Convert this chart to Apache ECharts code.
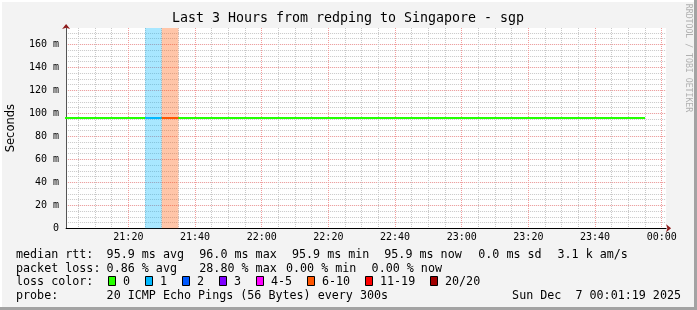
<!DOCTYPE html>
<html>
<head>
<meta charset="utf-8">
<script src="https://cdn.jsdelivr.net/npm/echarts@6/dist/echarts.min.js"></script>
<style>
html,body{margin:0;padding:0;background:#f3f3f3;}
#c{width:697px;height:310px;}
</style>
</head>
<body>
<div id="c"></div>
<script>
// ---- data ----
const stepEnd = ['21:05','21:10','21:15','21:20','21:25','21:30','21:35','21:40','21:45','21:50',
  '21:55','22:00','22:05','22:10','22:15','22:20','22:25','22:30','22:35','22:40',
  '22:45','22:50','22:55','23:00','23:05','23:10','23:15','23:20','23:25','23:30',
  '23:35','23:40','23:45','23:50','23:55'];
const medianMs = [95.9,95.9,95.9,95.9,95.9,95.9,96.0,95.9,95.9,95.9,
  95.9,95.9,95.9,95.9,95.9,95.9,95.9,95.9,95.9,95.9,
  95.9,95.9,95.9,95.9,95.9,95.9,95.9,95.9,95.9,95.9,
  95.9,95.9,95.9,95.9,95.9];
const lossPct = [0,0,0,0,0,1.2,28.8,0,0,0,
  0,0,0,0,0,0,0,0,0,0,
  0,0,0,0,0,0,0,0,0,0,
  0,0,0,0,0];
const lossLabels = ['0','1','2','3','4-5','6-10','11-19','20/20'];
const lossUpper = [0,1,2,3,5,10,19,20];
const lossColors = ['#26ff00','#00b8ff','#0059ff','#7e00ff','#ff00ff','#ff5500','#ff0000','#a10000'];
const yTickValues = [0,20,40,60,80,100,120,140,160];
const titleText = 'Last 3 Hours from redping to Singapore - sgp';
const legendRows = {
  rtt: ['median rtt:', '95.9 ms avg', '96.0 ms max', '95.9 ms min', '95.9 ms now', '0.0 ms sd', '3.1 k am/s'],
  loss: ['packet loss:', '0.86 % avg', '28.80 % max', '0.00 % min', '0.00 % now'],
  probe: ['probe:', '20 ICMP Echo Pings (56 Bytes) every 300s', 'Sun Dec  7 00:01:19 2025']
};
const pingsPerStep = 20;
const stepMs = 300000;

// ---- helpers ----
function t(hhmm) { const [h, m] = hhmm.split(':').map(Number); return new Date(2025, 11, 6, h, m, 0).getTime(); }
const xMin = new Date(2025, 11, 6, 21, 1, 19).getTime();
const xMax = new Date(2025, 11, 7, 0, 1, 19).getTime();
function bucket(pct) { const p = pct / 100 * pingsPerStep; for (let i = 0; i < lossUpper.length; i++) if (p <= lossUpper[i]) return i; return lossUpper.length - 1; }
function alpha(hex, a) { const n = parseInt(hex.slice(1), 16); return 'rgba(' + (n >> 16) + ',' + ((n >> 8) & 255) + ',' + (n & 255) + ',' + a + ')'; }
function pad(n) { return (n < 10 ? '0' : '') + n; }

const mono = 'DejaVu Sans Mono';
const minorColor = '#c8c8c8';
const majorColor = '#f29c9c';

// main line (step: value at stepEnd covers previous 5 minutes)
const mainData = [[t(stepEnd[0]) - stepMs, medianMs[0]]];
stepEnd.forEach((s, i) => mainData.push([t(s), medianMs[i]]));

const bandAreas = [];
const lossSeries = [];
stepEnd.forEach((s, i) => {
  if (lossPct[i] > 0) {
    const c = lossColors[bucket(lossPct[i])];
    bandAreas.push([{ xAxis: t(s) - stepMs, itemStyle: { color: alpha(c, 0.34) } }, { xAxis: t(s) }]);
    lossSeries.push({
      type: 'line', xAxisIndex: 1, yAxisIndex: 1, symbol: 'none', z: 4, silent: true,
      lineStyle: { color: c, width: 2 },
      data: [[t(s) - stepMs, medianMs[i]], [t(s), medianMs[i]]]
    });
  }
});

// ---- legend graphics ----
const g = [];
g.push({ type: 'rect', shape: { x: 0, y: 0, width: 697, height: 310 }, style: { fill: '#f3f3f3' }, z: -10, silent: true });
g.push({ type: 'rect', shape: { x: 0, y: 0, width: 697, height: 2 }, style: { fill: '#ffffff' }, z: -9, silent: true });
g.push({ type: 'rect', shape: { x: 0, y: 0, width: 2, height: 310 }, style: { fill: '#ffffff' }, z: -9, silent: true });
g.push({ type: 'rect', shape: { x: 694, y: 0, width: 3, height: 310 }, style: { fill: '#a3a3a3' }, z: -9, silent: true });
g.push({ type: 'rect', shape: { x: 0, y: 307, width: 697, height: 3 }, style: { fill: '#a3a3a3' }, z: -9, silent: true });

function txt(x, y, s, opts) {
  g.push(Object.assign({ type: 'text', x: x, y: y, silent: true,
    style: Object.assign({ text: s, fill: '#000', font: '11.7px "' + mono + '"', textAlign: 'left', textVerticalAlign: 'middle' }, opts || {}) }));
}
txt(348, 19, titleText, { font: '13.3px "' + mono + '"', textAlign: 'center' });
g.push({ type: 'text', x: 688, y: 58, rotation: -Math.PI / 2, silent: true,
  style: { text: 'RRDTOOL / TOBI OETIKER', fill: '#b0b0b0', font: '8.2px "' + mono + '"', textAlign: 'center', textVerticalAlign: 'middle' } });

const rttX = [16, 106.6, 199.3, 292, 384.3, 478.3, 557.5];
legendRows.rtt.forEach((s, i) => txt(rttX[i], 254.5, s));
const lossX = [16, 106.6, 199.3, 286, 371.6];
legendRows.loss.forEach((s, i) => txt(lossX[i], 268.5, s));
txt(16, 282, 'loss color:');
const swX = [108.5, 145.5, 182.5, 219.5, 256.5, 307.5, 365.5, 430.5];
lossLabels.forEach((s, i) => {
  g.push({ type: 'rect', silent: true, shape: { x: swX[i], y: 276.5, width: 7, height: 9 }, style: { fill: lossColors[i], stroke: '#000', lineWidth: 1 } });
  txt(swX[i] + 14.5, 282, s);
});
txt(16, 296, legendRows.probe[0]);
txt(106.6, 296, legendRows.probe[1]);
txt(681, 296, legendRows.probe[2], { textAlign: 'right' });

// ---- chart ----
const chart = echarts.init(document.getElementById('c'), null, { renderer: 'canvas' });
chart.setOption({
  animation: false,
  backgroundColor: 'transparent',
  grid: { left: 66.1, top: 28, width: 600, height: 200.3, show: true, backgroundColor: '#ffffff', borderWidth: 0,
    containLabel: false, outerBoundsMode: 'none' },
  graphic: g,
  xAxis: [
    { type: 'time', min: xMin, max: xMax, position: 'bottom', minInterval: 5.5 * 60000, maxInterval: 5.5 * 60000,
      axisLine: { show: true, onZero: false, symbol: ['none', 'arrow'], symbolSize: [6, 5], symbolOffset: [0, 5], lineStyle: { color: '#8e1b1b', width: 0 } },
      axisTick: { show: false }, axisLabel: { show: false },
      splitLine: { show: true, showMinLine: false, showMaxLine: false, lineStyle: { color: minorColor, width: 1, type: [1, 1] } } },
    { type: 'time', min: xMin, max: xMax, position: 'bottom', minInterval: 21 * 60000, maxInterval: 21 * 60000,
      axisLine: { show: true, onZero: false, lineStyle: { color: '#000', width: 1 } },
      axisTick: { show: false },
      axisLabel: { show: true, margin: 4, color: '#000', fontFamily: mono, fontSize: 10,
        showMinLabel: true, showMaxLabel: true, hideOverlap: false,
        formatter: function (v) { const d = new Date(v); if (d.getSeconds() !== 0 || d.getMinutes() % 20 !== 0) return ''; return pad(d.getHours()) + ':' + pad(d.getMinutes()); } },
      splitLine: { show: true, showMinLine: false, showMaxLine: false, lineStyle: { color: majorColor, width: 1, type: [1, 1] } } }
  ],
  yAxis: [
    { type: 'value', min: 0, max: 174.2, interval: 5, position: 'left',
      axisLine: { show: true, onZero: false, symbol: ['none', 'arrow'], symbolSize: [6, 5], symbolOffset: [0, 4], lineStyle: { color: '#8e1b1b', width: 0 } },
      axisTick: { show: false }, axisLabel: { show: false },
      splitLine: { show: true, showMinLine: false, showMaxLine: false, lineStyle: { color: minorColor, width: 1, type: [1, 1] } } },
    { type: 'value', min: 0, max: 174.2, interval: 20, position: 'left',
      name: 'Seconds', nameLocation: 'middle', nameRotate: 90, nameGap: 49, nameMoveOverlap: false,
      nameTextStyle: { fontFamily: 'DejaVu Sans', fontSize: 11.5, color: '#000' },
      axisLine: { show: true, onZero: false, lineStyle: { color: '#555555', width: 1 } },
      axisTick: { show: false },
      axisLabel: { show: true, margin: 7, color: '#000', fontFamily: mono, fontSize: 10, showMaxLabel: false,
        formatter: function (v) { return yTickValues.indexOf(v) < 0 ? '' : (v === 0 ? '0' : v + ' m'); } },
      splitLine: { show: true, showMinLine: false, showMaxLine: false, lineStyle: { color: majorColor, width: 1, type: [1, 1] } } }
  ],
  series: [
    { type: 'line', xAxisIndex: 1, yAxisIndex: 1, data: [], z: 1, silent: true,
      markArea: { silent: true, data: bandAreas } },
    { type: 'line', xAxisIndex: 1, yAxisIndex: 1, step: 'start', symbol: 'none', z: 3, silent: true,
      lineStyle: { color: lossColors[0], width: 2 }, data: mainData }
  ].concat(lossSeries)
});
</script>
</body>
</html>
